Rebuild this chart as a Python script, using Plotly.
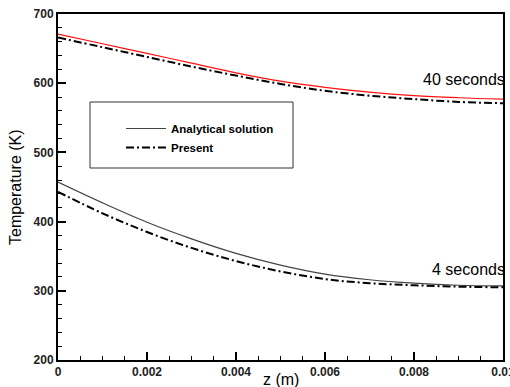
import plotly.graph_objects as go

z = [0, 0.001, 0.002, 0.003, 0.004, 0.005, 0.006, 0.007, 0.008, 0.009, 0.01]
analytical_40s = [671, 657, 643, 629, 615, 603, 594, 587, 582, 579, 577]
present_40s = [666, 652, 638, 624, 611, 599, 589, 582, 577, 573, 571]
analytical_4s = [457, 427, 399, 375, 354, 337, 324, 316, 311, 308, 307]
present_4s = [443, 412, 385, 362, 343, 328, 317, 311, 308, 306, 305]

x_ticks = [0, 0.002, 0.004, 0.006, 0.008, 0.01]
x_ticklabels = ["0", "0.002", "0.004", "0.006", "0.008", "0.01"]
y_ticks = [200, 300, 400, 500, 600, 700]

FONT = "Liberation Sans, Arial, sans-serif"
dash = "8px,3px,2px,3px"

# plot area in pixels (for placing annotations in paper coords)
L, R, T, B = 58, 503, 14, 360
def px(x): return (x - L) / (R - L)
def py(y): return (B - y) / (B - T)

fig = go.Figure()
fig.add_trace(go.Scatter(x=z, y=analytical_40s, mode="lines", line=dict(color="#ff1010", width=1.2, shape="spline"),
                         showlegend=False))
fig.add_trace(go.Scatter(x=z, y=present_40s, mode="lines", line=dict(color="black", width=2, dash=dash, shape="spline"),
                         showlegend=False))
fig.add_trace(go.Scatter(x=z, y=analytical_4s, mode="lines", line=dict(color="#444444", width=1.2, shape="spline"),
                         name="Analytical solution"))
fig.add_trace(go.Scatter(x=z, y=present_4s, mode="lines", line=dict(color="black", width=2, dash=dash, shape="spline"),
                         name="Present"))

axis_common = dict(showgrid=False, zeroline=False, showline=True, linecolor="black", linewidth=2,
                   mirror=True, ticks="inside", ticklen=8, tickwidth=1.5, tickcolor="black",
                   ticklabeloverflow="allow", automargin=False,
                   tickfont=dict(family=FONT, size=12, color="#222222", weight="bold"))

fig.update_xaxes(range=[0, 0.01], tickvals=x_ticks, ticktext=x_ticklabels,
                 minor=dict(ticks="inside", ticklen=4, tickwidth=1, tickcolor="black", dtick=0.0005),
                 **axis_common)
fig.update_yaxes(range=[200, 700], tickvals=y_ticks,
                 minor=dict(ticks="inside", ticklen=4, tickwidth=1, tickcolor="black", dtick=20),
                 **axis_common)

fig.update_layout(
    width=510, height=387,
    margin=dict(l=L, r=510 - R, t=T, b=387 - B, autoexpand=False),
    plot_bgcolor="white", paper_bgcolor="white",
    font=dict(family=FONT, color="black"),
    legend=dict(x=px(121), y=py(114), xanchor="left", yanchor="top", bgcolor="rgba(0,0,0,0)",
                font=dict(family=FONT, size=11.5, color="black", weight="bold"),
                tracegroupgap=0, itemwidth=40),
    shapes=[dict(type="rect", xref="paper", yref="paper",
                 x0=px(90), x1=px(293), y0=py(168), y1=py(102),
                 line=dict(color="#333333", width=1), fillcolor="rgba(0,0,0,0)", layer="below")],
    annotations=[
        dict(text="40 seconds", x=px(507), y=py(79), xref="paper", yref="paper",
             xanchor="right", yanchor="middle", showarrow=False,
             font=dict(family=FONT, size=16, color="black")),
        dict(text="4 seconds", x=px(507), y=py(269), xref="paper", yref="paper",
             xanchor="right", yanchor="middle", showarrow=False,
             font=dict(family=FONT, size=16, color="black")),
        dict(text="z (m)", x=0.5, y=py(379), xref="paper", yref="paper",
             xanchor="center", yanchor="middle", showarrow=False,
             font=dict(family=FONT, size=16, color="black")),
        dict(text="Temperature (K)", x=px(15), y=py(187), xref="paper", yref="paper",
             xanchor="center", yanchor="middle", showarrow=False, textangle=-90,
             font=dict(family=FONT, size=16, color="black")),
    ],
)

fig.write_html("out.html", config={"displayModeBar": False},
               post_script="document.body.style.margin='0';")
